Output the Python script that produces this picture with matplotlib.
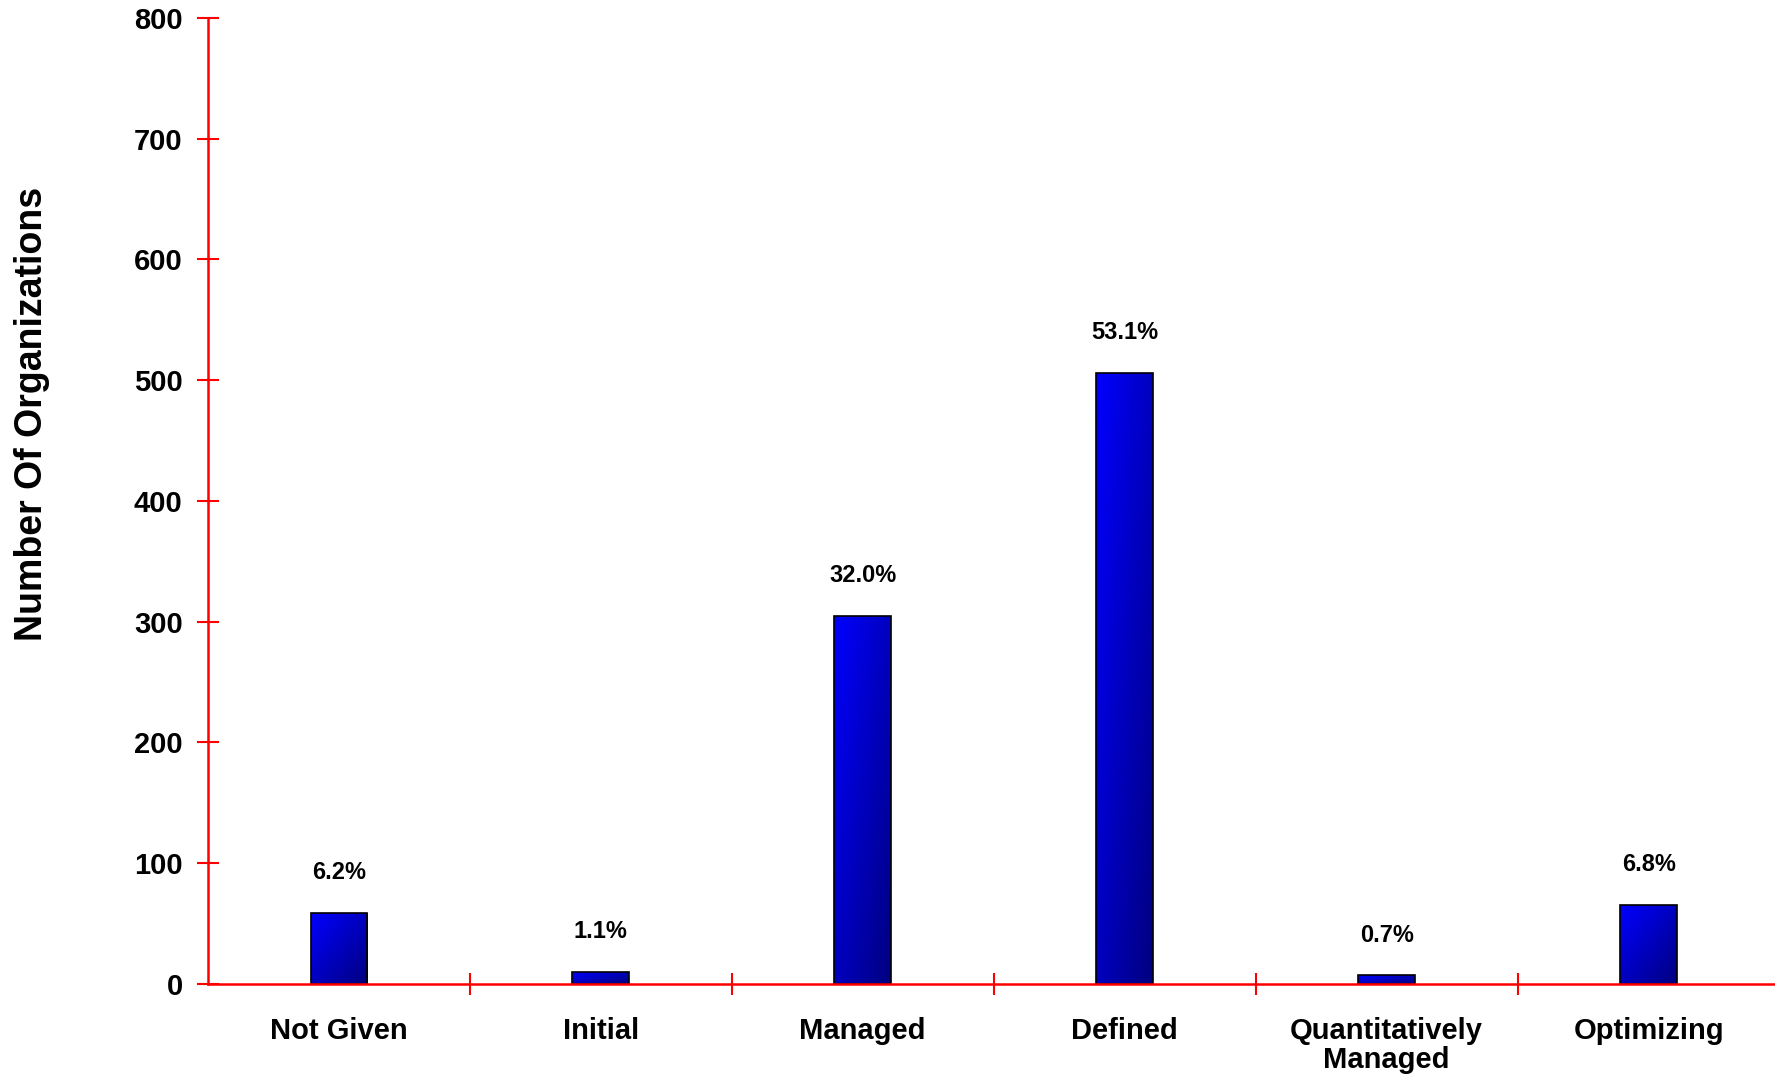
import numpy as np
import matplotlib.pyplot as plt
from matplotlib.patches import Rectangle

categories = ["Not Given", "Initial", "Managed", "Defined", "Quantitatively\nManaged", "Optimizing"]
counts = [59, 10, 305, 506, 7, 65]
pct_labels = ["6.2%", "1.1%", "32.0%", "53.1%", "0.7%", "6.8%"]
yticks = [0, 100, 200, 300, 400, 500, 600, 700, 800]

plt.rcParams["font.family"] = ["Liberation Sans", "DejaVu Sans"]

fig = plt.figure(figsize=(17.75, 10.75), dpi=100)
ax = fig.add_axes([0.117, 0.0847, 0.8856, 0.8986])

x = np.arange(len(categories))
width = 0.215
bars = ax.bar(x, counts, width=width, color="none", edgecolor="black", linewidth=1.2, zorder=3)

# diagonal blue gradient inside each bar: bright top-left, navy bottom-right
gx, gy = np.meshgrid(np.linspace(0, 1, 64), np.linspace(0, 1, 64))
t = (gx + gy) / 2
grad = np.zeros((64, 64, 3))
grad[..., 2] = 1.0 - 0.5 * t
for b in bars:
    x0, y0, w, h = b.get_x(), b.get_y(), b.get_width(), b.get_height()
    im = ax.imshow(grad, extent=[x0, x0 + w, y0, y0 + h], aspect="auto", zorder=2, origin="upper")
    im.set_clip_path(Rectangle((x0, y0), w, h, transform=ax.transData))

for xi, c, lab in zip(x, counts, pct_labels):
    ax.text(xi, c + 24, lab, ha="center", va="bottom", fontsize=17, fontweight="bold")

ax.set_xlim(-0.5, 5.5)
ax.set_ylim(0, 800)
ax.set_yticks(yticks)
ax.set_xticks(x)
ax.set_xticklabels(categories)
ax.set_xticks(np.arange(0.5, 5.5, 1.0), minor=True)

for s in ["top", "right"]:
    ax.spines[s].set_visible(False)
for s in ["left", "bottom"]:
    ax.spines[s].set_color("red")
    ax.spines[s].set_linewidth(1.8)
    ax.spines[s].set_zorder(4)

ax.tick_params(axis="y", colors="red", direction="inout", length=16, width=1.5,
               labelcolor="black", labelsize=21, pad=10)
ax.tick_params(axis="x", which="major", length=0, pad=24, labelsize=21)
ax.tick_params(axis="x", which="minor", colors="red", direction="inout", length=16, width=1.5)
for lab in ax.get_xticklabels() + ax.get_yticklabels():
    lab.set_fontweight("bold")
for lab in ax.get_xticklabels():
    lab.set_linespacing(1.05)

ax.set_ylabel("Number Of Organizations", fontsize=27, fontweight="bold")
ax.yaxis.set_label_coords(-0.1, 0.59)

fig.savefig("out.png", dpi=100)
